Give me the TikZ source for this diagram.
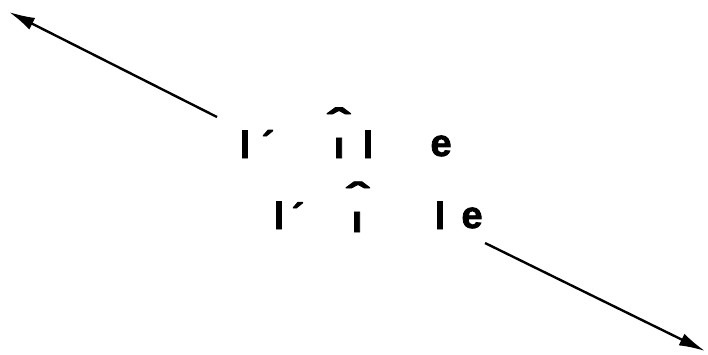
\documentclass[tikz,border=0pt]{standalone}
\usepackage{fontspec}
\setmainfont{Liberation Sans}[FakeBold=2]
\usetikzlibrary{arrows.meta}
\newcommand{\myhat}{\raisebox{-25pt}[7pt][0pt]{\scalebox{1.7}[1.0]{ˆ}}}
\begin{document}
\begin{tikzpicture}[x=1pt,y=-1pt,
  glyph/.style={inner sep=0pt,anchor=base,font=\fontsize{38}{40}\selectfont\bfseries},
  arr/.style={line width=2.4pt,-{Latex[length=26pt,width=13pt]}}]
\useasboundingbox (0,0) rectangle (708,354);
% line 1
\node[glyph] (l1a) at (245,158) {l};
\node[glyph] (ac1) at (268,158) {´};
\node[glyph] (i1) at (339,158) {ı};
\node[glyph] (h1) at (338,111) {\myhat};
\node[glyph] (l1b) at (368,158) {l};
\node[glyph] (e1) at (441,156) {e};
% line 2
\node[glyph] (l2a) at (279,229) {l};
\node[glyph] (ac2) at (298,230) {´};
\node[glyph] (i2) at (357,232) {ı};
\node[glyph] (h2) at (357,185) {\myhat};
\node[glyph] (l2b) at (440,229) {l};
\node[glyph] (e2) at (472,228) {e};
% arrows
\coordinate (a1s) at (217,117);
\coordinate (a1e) at (9,12);
\coordinate (a2s) at (485,243);
\coordinate (a2e) at (705,351);
\draw[arr] (a1s) -- (a1e);
\draw[arr] (a2s) -- (a2e);
\end{tikzpicture}
\end{document}
